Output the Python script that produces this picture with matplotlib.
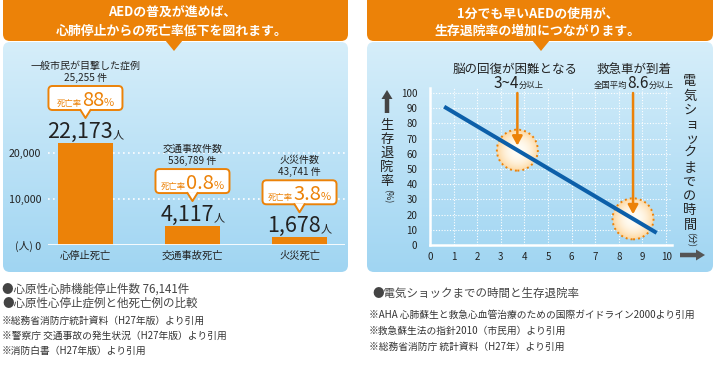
import numpy as np
import matplotlib.pyplot as plt
from matplotlib.patches import FancyBboxPatch, Polygon, Ellipse, FancyArrow

plt.rcParams['font.family'] = ['Noto Sans CJK JP', 'DejaVu Sans']

# left chart: deaths by cause
causes = ['心停止死亡', '交通事故死亡', '火災死亡']
deaths = [22173, 4117, 1678]
case_titles = ['一般市民が目撃した症例', '交通事故件数', '火災件数']
case_counts = ['25,255 件', '536,789 件', '43,741 件']
death_rates = ['88', '0.8', '3.8']
death_ticks = [0, 10000, 20000]
death_tick_labels = ['(人) 0', '10,000', '20,000']

# right chart: time to shock vs survival
shock_minutes = [0.6, 9.6]
survival_rate = [91, 8]
minute_ticks = list(range(0, 11))
rate_ticks = list(range(0, 101, 10))
marker_minutes = [3.7, 8.6]

ORANGE = '#EC8208'
BLUE = '#0C5FA9'
TEXT = '#222222'

W, H = 715, 370
fig = plt.figure(figsize=(W / 100, H / 100), dpi=100)
fig.patch.set_facecolor('white')


def px_axes(l, t, r, b):
    return fig.add_axes([l / W, 1 - b / H, (r - l) / W, (b - t) / H])


bg = px_axes(0, 0, W, H)
bg.axis('off')

# panels with gradient + orange headers
top_c = np.array([214, 238, 250]) / 255
bot_c = np.array([160, 213, 242]) / 255
grad = np.linspace(0, 1, 200)[:, None, None] * (bot_c - top_c) + top_c
grad = np.repeat(grad, 2, axis=1)

for x0, x1, tip in [(3, 348, 174), (367, 713, 541)]:
    panel = FancyBboxPatch((x0, 42), x1 - x0, 230, boxstyle='round,pad=0,rounding_size=7',
                           fc='none', ec='none', transform=bg.transData)
    bg.add_patch(panel)
    im = bg.imshow(grad, extent=[x0, x1, 272, 42], aspect='auto', zorder=0)
    im.set_clip_path(panel)
    bg.add_patch(FancyBboxPatch((x0, -8), x1 - x0, 49, boxstyle='round,pad=0,rounding_size=7',
                                fc=ORANGE, ec='none'))
    bg.add_patch(Polygon([(tip - 9, 40), (tip + 9, 40), (tip, 51)], closed=True, fc=ORANGE, ec='none'))
bg.set_xlim(0, W)
bg.set_ylim(H, 0)

hdr = dict(color='white', fontsize=9.3, fontweight='bold', ha='center', va='center')
bg.text(172, 13, 'AEDの普及が進めば、', **hdr)
bg.text(172, 31, '心肺停止からの死亡率低下を図れます。', **hdr)
bg.text(538, 14, '1分でも早いAEDの使用が、', **hdr)
bg.text(538, 31, '生存退院率の増加につながります。', **hdr)

# ---- left bar chart
ax1 = px_axes(48, 130, 345, 245)
ax1.set_facecolor('none')
ax1.bar(range(len(causes)), deaths, width=0.52, color=ORANGE, zorder=3)
for v in death_ticks[1:]:
    ax1.axhline(v, color='white', lw=1.2, ls=(0, (1, 2)), zorder=1)
ax1.axhline(0, color='white', lw=2, zorder=4)
for s in ax1.spines.values():
    s.set_visible(False)
ax1.set_xlim(-0.35, 2.425)
ax1.set_ylim(0, 25000)
ax1.set_yticks(death_ticks, death_tick_labels)
ax1.set_xticks(range(len(causes)), causes)
ax1.tick_params(length=0, labelcolor=TEXT)
ax1.tick_params(axis='y', pad=5, labelsize=7.7)
ax1.tick_params(axis='x', pad=4, labelsize=7.4)

# ---- right line chart
ax2 = px_axes(430, 88, 672, 245)
ax2.set_facecolor('none')
ax2.set_axisbelow(True)
ax2.grid(color='white', lw=0.8, ls=(0, (1, 1.5)))
for s in ['top', 'right']:
    ax2.spines[s].set_visible(False)
for s in ['left', 'bottom']:
    ax2.spines[s].set_color('white')
    ax2.spines[s].set_linewidth(1.8)

xmax, ymax = 10.25, 103.3
sx = (672 - 430) / xmax
sy = (245 - 88) / ymax
r = 20.5
yy, xx = np.mgrid[-1:1:101j, -1:1:101j]
rr = np.clip(np.hypot(xx, yy), 0, 1)[..., None]
c0 = np.array([255, 253, 246]) / 255
c1 = np.array([253, 215, 160]) / 255
glow = c0 + (c1 - c0) * rr ** 2.2

for m in marker_minutes:
    y = np.interp(m, shock_minutes, survival_rate)
    e = Ellipse((m, y), 2 * r / sx, 2 * r / sy, fc='none', ec='none')
    ax2.add_patch(e)
    im = ax2.imshow(glow, extent=[m - r / sx, m + r / sx, y - r / sy, y + r / sy],
                    aspect='auto', zorder=2)
    im.set_clip_path(e)
    ax2.add_patch(Ellipse((m, y), 2 * r / sx, 2 * r / sy, fc='none', ec=ORANGE,
                          lw=1.4, ls=(0, (1, 1.6)), zorder=3))
    ax2.annotate('', xy=(m, y + 3), xytext=(m, 100),
                 arrowprops=dict(arrowstyle='-|>,head_width=0.3,head_length=0.55', color=ORANGE,
                                 lw=1.8, shrinkA=0, shrinkB=0), zorder=5)

ax2.plot(shock_minutes, survival_rate, color=BLUE, lw=2.9, zorder=4, solid_capstyle='butt')
ax2.set_xlim(0, xmax)
ax2.set_ylim(0, ymax)
ax2.set_xticks(minute_ticks)
ax2.set_yticks(rate_ticks)
ax2.tick_params(length=0, labelsize=7, labelcolor=TEXT)
ax2.tick_params(axis='y', pad=9)
ax2.tick_params(axis='x', pad=5)

# ---- overlay for annotations
fg = px_axes(0, 0, W, H)
fg.axis('off')
fg.set_xlim(0, W)
fg.set_ylim(H, 0)
renderer = fig.canvas.get_renderer()


def to_px(ax, x, y):
    dx, dy = ax.transData.transform((x, y))
    return dx, H - dy


def text_run(parts, cx, base):
    objs = [fg.text(0, base, s, fontsize=fs, color=c, ha='left', va='baseline') for s, fs, c in parts]
    widths = [o.get_window_extent(renderer).width for o in objs]
    x = cx - sum(widths) / 2
    for o, w in zip(objs, widths):
        o.set_x(x)
        x += w


for i, (v, title, count, rate) in enumerate(zip(deaths, case_titles, case_counts, death_rates)):
    cx, top = to_px(ax1, i, v)
    text_run([(f'{v:,}', 15.5, TEXT), ('人', 8, TEXT)], cx, top - 5)
    bx0, by0 = cx - 37, top - 57
    fg.add_patch(FancyBboxPatch((bx0, by0), 74, 24, boxstyle='round,pad=0,rounding_size=4',
                                fc='white', ec=ORANGE, lw=1.4, zorder=2))
    fg.add_patch(Polygon([(cx - 5, top - 34), (cx, top - 25), (cx + 5, top - 34)],
                         closed=True, fc='white', ec='none', zorder=3))
    fg.plot([cx - 5, cx, cx + 5], [top - 33, top - 25, top - 33], color=ORANGE, lw=1.4, zorder=4)
    text_run([('死亡率', 6, ORANGE), (rate, 14.5, ORANGE), ('%', 8, ORANGE)], cx, top - 37.5)
    fg.text(cx, top - 65, count, fontsize=7.2, color=TEXT, ha='center', va='center')
    fg.text(cx, top - 77, title, fontsize=7.2, color=TEXT, ha='center', va='center')

fg.text(515, 69.5, '脳の回復が困難となる', fontsize=9, color=TEXT, ha='center', va='center')
text_run([('3~4', 11, TEXT), ('分以上', 6, TEXT)], 519, 88)
fg.text(634, 69.5, '救急車が到着', fontsize=9, color=TEXT, ha='center', va='center')
text_run([('全国平均', 6, TEXT), ('8.6', 11, TEXT), ('分以上', 6, TEXT)], 634, 88)

# vertical axis titles
fg.add_patch(FancyArrow(387, 113, 0, -23, width=4.5, head_width=11, head_length=9,
                        length_includes_head=True, fc='#444', ec='none'))
for k, ch in enumerate('生存退院率'):
    fg.text(387, 125 + 14 * k, ch, fontsize=9.5, color=TEXT, ha='center', va='center')
fg.text(387, 196, '(%)', fontsize=6.5, color=TEXT, ha='center', va='center', rotation=-90)

for k, ch in enumerate('電気ショックまでの時間'):
    dx = 2 if ch in 'ョッ' else 0
    fg.text(690 + dx, 82 + 14.3 * k, ch, fontsize=9.5, color=TEXT, ha='center', va='center')
fg.text(690, 240, '(分)', fontsize=6.5, color=TEXT, ha='center', va='center', rotation=-90)
fg.add_patch(FancyArrow(680, 255, 25, 0, width=4.5, head_width=11, head_length=9,
                        length_includes_head=True, fc='#555', ec='none'))

# footnotes
big = dict(fontsize=8.3, color='#444', va='center', ha='left')
small = dict(fontsize=7, color='#333', va='center', ha='left')
fg.text(2, 289, '●心原性心肺機能停止件数 76,141件', **big)
fg.text(2, 303, '●心原性心停止症例と他死亡例の比較', **big)
fg.text(2, 321, '※総務省消防庁統計資料（H27年版）より引用', **small)
fg.text(2, 336, '※警察庁 交通事故の発生状況（H27年版）より引用', **small)
fg.text(2, 351, '※消防白書（H27年版）より引用', **small)
fg.text(372, 293, '●電気ショックまでの時間と生存退院率', **big)
fg.text(369, 315, '※AHA 心肺蘇生と救急心血管治療のための国際ガイドライン2000より引用', **small)
fg.text(369, 331, '※救急蘇生法の指針2010（市民用）より引用', **small)
fg.text(369, 347, '※総務省消防庁 統計資料（H27年）より引用', **small)

fig.savefig('out.png', dpi=100)
